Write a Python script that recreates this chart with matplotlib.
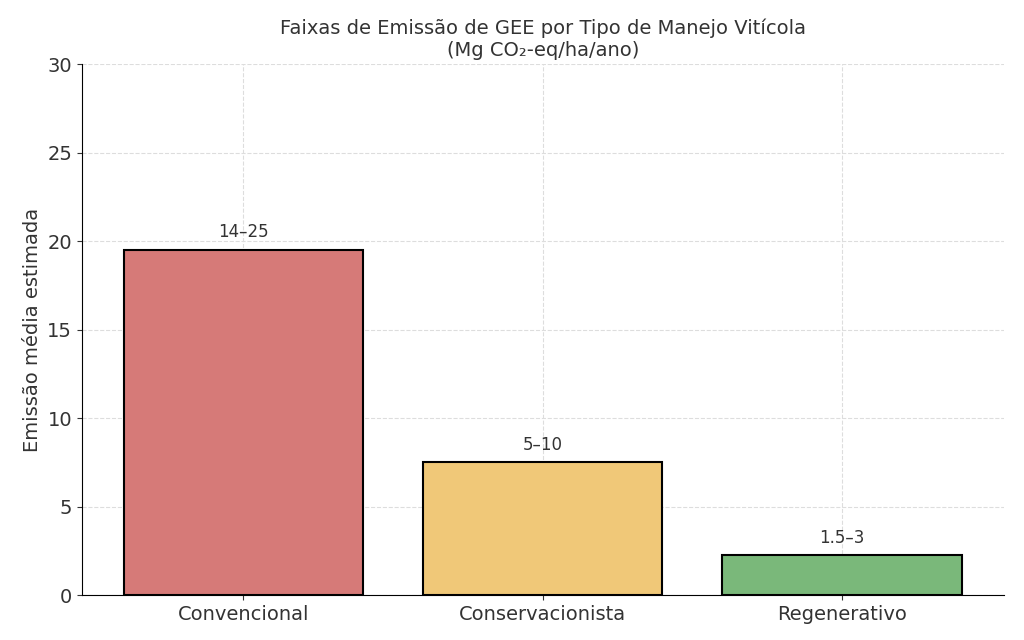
import matplotlib
matplotlib.use("Agg")
import matplotlib.pyplot as plt

categories = ["Convencional", "Conservacionista", "Regenerativo"]
values = [19.5, 7.5, 2.25]
labels = ["14–25", "5–10", "1.5–3"]
colors = ["#d67a78", "#f0c878", "#7ab87a"]

fig, ax = plt.subplots(figsize=(10.24, 6.4), dpi=100)
bars = ax.bar(categories, values, color=colors, edgecolor="black", linewidth=1.5, width=0.8, zorder=2)
for b, l in zip(bars, labels):
    ax.text(b.get_x() + b.get_width()/2, b.get_height() + 0.5, l, ha="center", va="bottom", fontsize=12, color="#333333")
ax.set_ylim(0, 30)
ax.set_ylabel("Emissão média estimada", fontsize=14, color="#333333")
ax.set_title("Faixas de Emissão de GEE por Tipo de Manejo Vitícola\n(Mg CO₂-eq/ha/ano)", fontsize=14, color="#333333")
ax.grid(True, linestyle="--", color="#dddddd", zorder=0)
ax.tick_params(labelsize=14, colors="#333333")
for s in ["top", "right"]:
    ax.spines[s].set_visible(False)
fig.subplots_adjust(left=0.08, right=0.98, top=0.9, bottom=0.07)
fig.savefig("out.png")
